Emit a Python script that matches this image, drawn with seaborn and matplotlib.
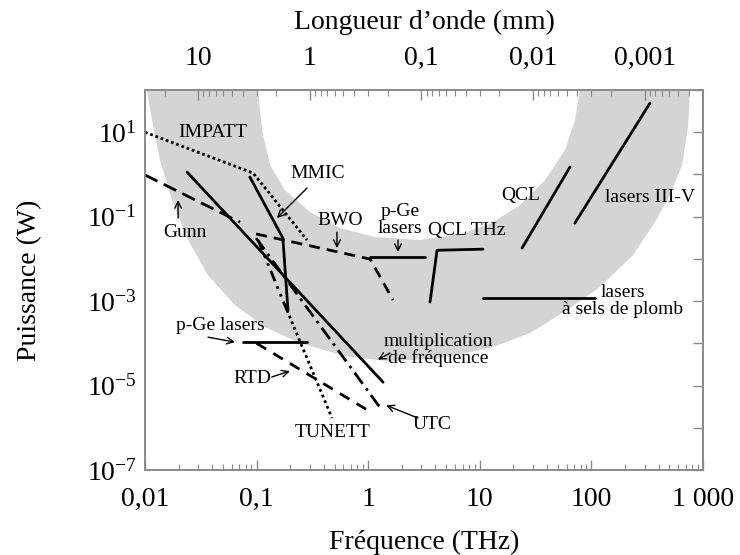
import numpy as np
import pandas as pd
import matplotlib
matplotlib.use("Agg")
import matplotlib.pyplot as plt
import seaborn as sns
from matplotlib.ticker import FixedLocator, FixedFormatter, LogLocator, NullFormatter

sns.set_theme(style="white")
plt.rcParams['font.family'] = ['Liberation Serif', 'DejaVu Serif']
plt.rcParams['mathtext.fontset'] = 'custom'
plt.rcParams['mathtext.rm'] = 'Liberation Serif'
plt.rcParams['mathtext.it'] = 'Liberation Serif:italic'
plt.rcParams['text.color'] = 'black'
plt.rcParams['axes.labelcolor'] = 'black'

# ---------------- ticks ----------------
x_ticks = [0.01, 0.1, 1, 10, 100, 1000]
x_tick_labels = ["0,01", "0,1", "1", "10", "100", "1 000"]
wl_ticks = [10, 1, 0.1, 0.01, 0.001]
wl_tick_labels = ["10", "1", "0,1", "0,01", "0,001"]
y_ticks = [1e-7, 1e-6, 1e-5, 1e-4, 1e-3, 1e-2, 1e-1, 1e0, 1e1, 1e2]
y_tick_labels = [r"$10^{-7}$", "", r"$10^{-5}$", "", r"$10^{-3}$", "",
                 r"$10^{-1}$", "", r"$10^{1}$", ""]

# ---------------- grey band (THz gap) ----------------
band_outer_f = [0.0104, 0.01156, 0.0136, 0.01746, 0.0243, 0.0366, 0.064, 0.119,
                0.245, 0.619, 1.57, 4.40, 12.3, 28.2, 60.4, 119, 236, 372, 506,
                649, 735, 766]
band_outer_p = [100, 19.5, 2.19, 0.247, 0.0279, 4.13e-3, 8.04e-4, 2.42e-4,
                1.01e-4, 4.98e-5, 3.78e-5, 4.46e-5, 7.69e-5, 1.75e-4, 6.12e-4,
                2.15e-3, 0.0123, 0.0745, 0.325, 1.67, 13.3, 100]
band_inner_f = [0.103, 0.112, 0.132, 0.179, 0.301, 0.558, 1.15, 2.91, 6.65,
                12.3, 22.9, 38.4, 57.9, 71.3, 79.1]
band_inner_p = [100, 11.3, 1.67, 0.427, 0.129, 0.0537, 0.0329, 0.0279, 0.0387,
                0.0668, 0.188, 0.736, 3.78, 19.5, 100]

# ---------------- sources ----------------
impatt_f = [0.01, 0.093, 0.283]
impatt_p = [10, 1.08, 0.028]
gunn_f = [0.01, 0.071]
gunn_p = [0.97, 0.074]
mmic_f = [0.087, 0.172, 0.191]
mmic_p = [0.87, 0.031, 6.1e-4]
mult_f = [0.0238, 1.36]
mult_p = [1.14, 1.2e-5]
utc_f = [0.099, 1.33]
utc_p = [0.031, 2.6e-6]
tunett_f = [0.103, 0.187, 0.474]
tunett_p = [0.028, 6.1e-4, 1.7e-6]
rtd_f = [0.1, 1.1]
rtd_p = [1.0e-4, 2.2e-6]
pge_low_f = [0.0755, 0.283]
pge_low_p = [1.07e-4, 1.07e-4]
bwo_f = [0.099, 1.04, 1.67]
bwo_p = [0.039, 0.0099, 1.06e-3]
pge_high_f = [1.04, 3.2]
pge_high_p = [0.011, 0.011]
qcl_thz_f = [3.58, 4.14, 10.7]
qcl_thz_p = [9.5e-4, 0.016, 0.017]
qcl_f = [23.9, 64.3]
qcl_p = [0.018, 1.5]
laser35_f = [71, 335]
laser35_p = [0.07, 49]
leadsalt_f = [10.7, 108]
leadsalt_p = [1.2e-3, 1.2e-3]

series = [
    ("IMPATT", impatt_f, impatt_p, (0, (1, 1))),
    ("Gunn", gunn_f, gunn_p, (0, (5, 2.5))),
    ("MMIC", mmic_f, mmic_p, "-"),
    ("mult", mult_f, mult_p, "-"),
    ("UTC", utc_f, utc_p, (0, (5, 2, 1, 2))),
    ("TUNETT_a", tunett_f[:2], tunett_p[:2], (0, (4, 2, 1, 2, 1, 2))),
    ("TUNETT_b", tunett_f[1:], tunett_p[1:], (0, (1, 1.2))),
    ("RTD", rtd_f, rtd_p, (0, (4, 3))),
    ("pGe_low", pge_low_f, pge_low_p, "-"),
    ("BWO", bwo_f, bwo_p, (0, (4, 2.5))),
    ("pGe_high", pge_high_f, pge_high_p, "-"),
    ("QCL_THz", qcl_thz_f, qcl_thz_p, "-"),
    ("QCL", qcl_f, qcl_p, "-"),
    ("III-V", laser35_f, laser35_p, "-"),
    ("leadsalt", leadsalt_f, leadsalt_p, "-"),
]

# ---------------- figure ----------------
fig = plt.figure(figsize=(7.4, 5.55), dpi=100)
ax = fig.add_axes([145 / 740, 1 - 470 / 555, (703 - 145) / 740, (470 - 90) / 555])
ax.set_xscale("log")
ax.set_yscale("log")
ax.set_xlim(0.01, 1000)
ax.set_ylim(1e-7, 1e2)

ax.fill(np.r_[band_outer_f, band_inner_f[::-1]],
        np.r_[band_outer_p, band_inner_p[::-1]],
        color="#d4d4d4", lw=0, zorder=0)

for name, f, p, ls in series:
    df = pd.DataFrame({"f": f, "p": p})
    sns.lineplot(data=df, x="f", y="p", ax=ax, sort=False, estimator=None,
                 color="black", lw=2.0, linestyle=ls, zorder=3)

ax.set_xlim(0.01, 1000)
ax.set_ylim(1e-7, 1e2)

# ---------------- annotations ----------------
fs = 14
arr = dict(arrowstyle="->", color="black", lw=1.0, mutation_scale=12,
           shrinkA=0, shrinkB=0)
ax.text(0.0406, 10.1, "IMPATT", fontsize=fs, ha="center", va="center")
ax.text(0.355, 1.08, "MMIC", fontsize=fs, ha="center", va="center")
ax.annotate("", xy=(0.152, 0.0927), xytext=(0.283, 0.476), arrowprops=arr)
ax.text(0.558, 0.083, "BWO", fontsize=fs, ha="center", va="center")
ax.annotate("", xy=(0.525, 0.018), xytext=(0.525, 0.043), arrowprops=arr)
ax.text(0.0228, 0.043, "Gunn", fontsize=fs, ha="center", va="center")
ax.annotate("", xy=(0.0198, 0.247), xytext=(0.0198, 0.093), arrowprops=arr)
ax.text(1.93, 0.083, "p-Ge\nlasers", fontsize=fs, ha="center", va="center",
        linespacing=0.95)
ax.annotate("", xy=(1.85, 0.0145), xytext=(1.85, 0.028), arrowprops=arr)
ax.text(7.67, 0.048, "QCL THz", fontsize=fs, ha="center", va="center")
ax.text(23.4, 0.325, "QCL", fontsize=fs, ha="center", va="center")
ax.text(335, 0.291, "lasers III-V", fontsize=fs, ha="center", va="center")
ax.text(192, 1e-3, "lasers\nà sels de plomb", fontsize=fs, ha="center",
        va="center", linespacing=0.95)
ax.text(4.22, 6.9e-5, "multiplication\nde fréquence", fontsize=fs, ha="center",
        va="center", linespacing=0.95)
ax.annotate("", xy=(1.22, 4.1e-5), xytext=(1.57, 5.9e-5), arrowprops=arr)
ax.text(0.047, 2.7e-4, "p-Ge lasers", fontsize=fs, ha="center", va="center")
ax.annotate("", xy=(0.064, 1.07e-4), xytext=(0.0367, 1.4e-4), arrowprops=arr)
ax.text(0.091, 1.5e-5, "RTD", fontsize=fs, ha="center", va="center")
ax.annotate("", xy=(0.199, 2.2e-5), xytext=(0.137, 1.6e-5), arrowprops=arr)
ax.text(0.484, 7.9e-7, "TUNETT", fontsize=fs, ha="center", va="center")
ax.text(3.73, 1.2e-6, "UTC", fontsize=fs, ha="center", va="center")
ax.annotate("", xy=(1.45, 3.4e-6), xytext=(2.79, 1.7e-6), arrowprops=arr)

# ---------------- axes styling ----------------
spine_col = "#8a8a8a"
tfs = 20
ax.xaxis.set_major_locator(FixedLocator(x_ticks))
ax.xaxis.set_major_formatter(FixedFormatter(x_tick_labels))
ax.xaxis.set_minor_locator(LogLocator(base=10, subs=np.arange(2, 10)))
ax.xaxis.set_minor_formatter(NullFormatter())
ax.yaxis.set_major_locator(FixedLocator(y_ticks))
ax.yaxis.set_major_formatter(FixedFormatter(y_tick_labels))
ax.yaxis.set_minor_locator(FixedLocator([]))
ax.tick_params(axis="both", which="both", direction="in", colors=spine_col,
               labelcolor="black", labelsize=tfs)
ax.tick_params(axis="x", which="major", length=7, width=1, pad=12, top=False)
ax.tick_params(axis="x", which="minor", length=4, width=0.8, top=False)
ax.tick_params(axis="y", which="major", length=7, width=1, pad=6, right=True)
for s in ax.spines.values():
    s.set_color(spine_col)
    s.set_linewidth(1.2)
ax.set_xlabel("Fréquence (THz)", fontsize=tfs, labelpad=13, color="black")
ax.set_ylabel("Puissance (W)", fontsize=tfs, labelpad=32, color="black")
ax.grid(False)

ax2 = ax.twiny()
ax2.set_xscale("log")
ax2.set_xlim(0.3 / 0.01, 0.3 / 1000)
ax2.xaxis.set_major_locator(FixedLocator(wl_ticks))
ax2.xaxis.set_major_formatter(FixedFormatter(wl_tick_labels))
ax2.xaxis.set_minor_locator(LogLocator(base=10, subs=np.arange(2, 10)))
ax2.xaxis.set_minor_formatter(NullFormatter())
ax2.tick_params(axis="x", which="both", direction="in", colors=spine_col,
                labelcolor="black", labelsize=tfs)
ax2.tick_params(axis="x", which="major", length=7, width=1, pad=14)
ax2.tick_params(axis="x", which="minor", length=4, width=0.8)
for s in ax2.spines.values():
    s.set_color(spine_col)
    s.set_linewidth(1.2)
ax2.set_xlabel("Longueur d’onde (mm)", fontsize=tfs, labelpad=12, color="black")
ax2.grid(False)

fig.savefig("out.png", dpi=100)
